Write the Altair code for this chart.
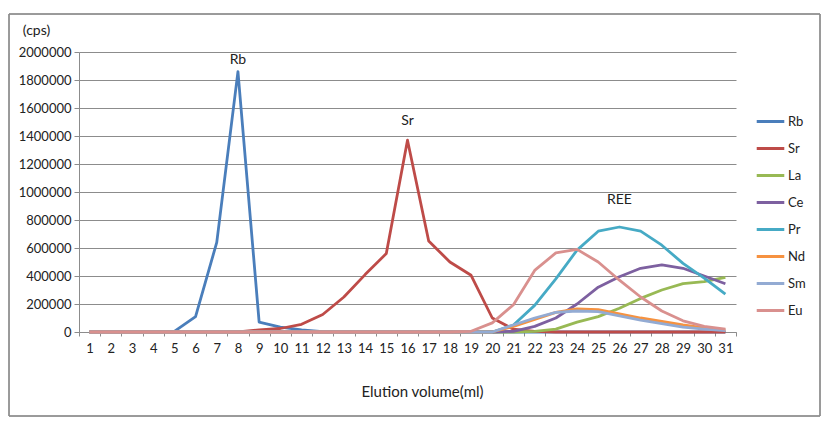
import altair as alt
import pandas as pd

volume = list(range(1, 32))

rb = [0, 0, 0, 0, 5000, 110000, 640000, 1860000, 70000, 35000, 15000, 3000,
      0, 0, 0, 0, 0, 0, 0, 0, 0, 0, 0, 0, 0, 0, 0, 0, 0, 0, 0]
sr = [0, 0, 0, 0, 0, 0, 0, 0, 15000, 25000, 55000, 125000, 250000, 410000, 560000,
      1370000, 650000, 500000, 405000, 100000, 20000, 5000, 0, 0, 0, 0, 0, 0, 0, 0, 0]
la = [0] * 21 + [5000, 20000, 70000, 110000, 170000, 240000, 300000, 345000, 360000, 390000]
ce = [0] * 20 + [5000, 40000, 100000, 200000, 320000, 395000, 455000, 480000, 455000, 400000, 345000]
pr = [0] * 19 + [0, 50000, 190000, 380000, 585000, 720000, 750000, 720000, 620000, 490000, 385000, 270000]
nd = [0] * 19 + [0, 40000, 90000, 140000, 165000, 160000, 130000, 100000, 75000, 50000, 30000, 15000]
sm = [0] * 19 + [0, 50000, 100000, 140000, 150000, 145000, 115000, 85000, 60000, 35000, 20000, 10000]
eu = [0] * 18 + [5000, 65000, 195000, 440000, 565000, 590000, 500000, 370000, 250000, 150000, 80000, 40000, 20000]

series_names = ["Rb", "Sr", "La", "Ce", "Pr", "Nd", "Sm", "Eu"]
series_values = [rb, sr, la, ce, pr, nd, sm, eu]
series_colors = ["#4A7EBB", "#BE4B48", "#98B954", "#7D60A0", "#46AAC5", "#F69240", "#93ABD3", "#D9908E"]

y_ticks = [0, 200000, 400000, 600000, 800000, 1000000, 1200000, 1400000, 1600000, 1800000, 2000000]

labels_text = ["Rb", "Sr", "REE"]
labels_x = [8, 16, 26]
labels_y = [1945000, 1505000, 945000]

rows = []
for name, vals in zip(series_names, series_values):
    for v, c in zip(volume, vals):
        rows.append({"volume": v, "cps": c, "element": name})
df = pd.DataFrame(rows)
ann = pd.DataFrame({"volume": labels_x, "cps": labels_y, "label": labels_text})

FONT = "Lato"
GRID = "#8c8c8c"

x_axis = alt.Axis(
    title="Elution volume(ml)", labelAngle=0, tickBand="extent", labelOverlap=False,
    domainColor=GRID, tickColor=GRID, tickSize=4, labelPadding=6,
    labelFontSize=13, labelColor="#222", titleFontSize=15, titleFontWeight="normal",
    titleColor="#222", titleX=343, titleY=59, titleAlign="center", titleBaseline="middle",
)
y_axis = alt.Axis(
    values=y_ticks, tickCount=50, format="d", labelOverlap=False,
    title="(cps)", titleAngle=0, titleX=-43, titleY=-22, titleAlign="center",
    titleBaseline="middle", titleFontSize=14, titleFontWeight="normal", titleColor="#222",
    grid=True, gridColor=GRID, domainColor=GRID, tickColor=GRID, tickSize=5,
    labelFontSize=13, labelColor="#222", labelPadding=3,
)
x_scale = alt.Scale(type="band", paddingInner=0, paddingOuter=0, domain=volume)
y_scale = alt.Scale(domain=[0, 2000000], nice=False)

lines = alt.Chart(df).mark_line(strokeWidth=2.8, strokeJoin="round").encode(
    x=alt.X("volume:O", bandPosition=0.5, scale=x_scale, axis=x_axis),
    y=alt.Y("cps:Q", scale=y_scale, axis=y_axis),
    color=alt.Color(
        "element:N",
        scale=alt.Scale(domain=series_names, range=series_colors),
        sort=series_names,
        legend=alt.Legend(
            title=None, orient="none", legendX=676, legendY=54,
            symbolType="stroke", symbolSize=760, symbolStrokeWidth=3,
            labelFontSize=13, labelColor="#222", rowPadding=4, labelOffset=2,
        ),
    ),
    order=alt.Order("element:N"),
)

text = alt.Chart(ann).mark_text(fontSize=14, font=FONT, color="#222", baseline="middle").encode(
    x=alt.X("volume:O", bandPosition=0.5, scale=x_scale, axis=x_axis),
    y=alt.Y("cps:Q", scale=y_scale, axis=y_axis),
    text="label:N",
)

frame = alt.Chart(ann).mark_rect(fill=None, stroke="#8c8c8c", strokeWidth=1, clip=False).encode(
    x=alt.value(-70), x2=alt.value(741), y=alt.value(-38), y2=alt.value(364)
)

chart = alt.layer(lines, text, frame).properties(
    width=657, height=280,
    autosize=alt.AutoSizeParams(type="none"),
    padding={"left": 71, "top": 44, "right": 92, "bottom": 88},
).configure(font=FONT).configure_view(stroke=None).configure_axis(labelFont=FONT, titleFont=FONT)

chart.save("out.html", embed_options={"renderer": "svg", "actions": False})
